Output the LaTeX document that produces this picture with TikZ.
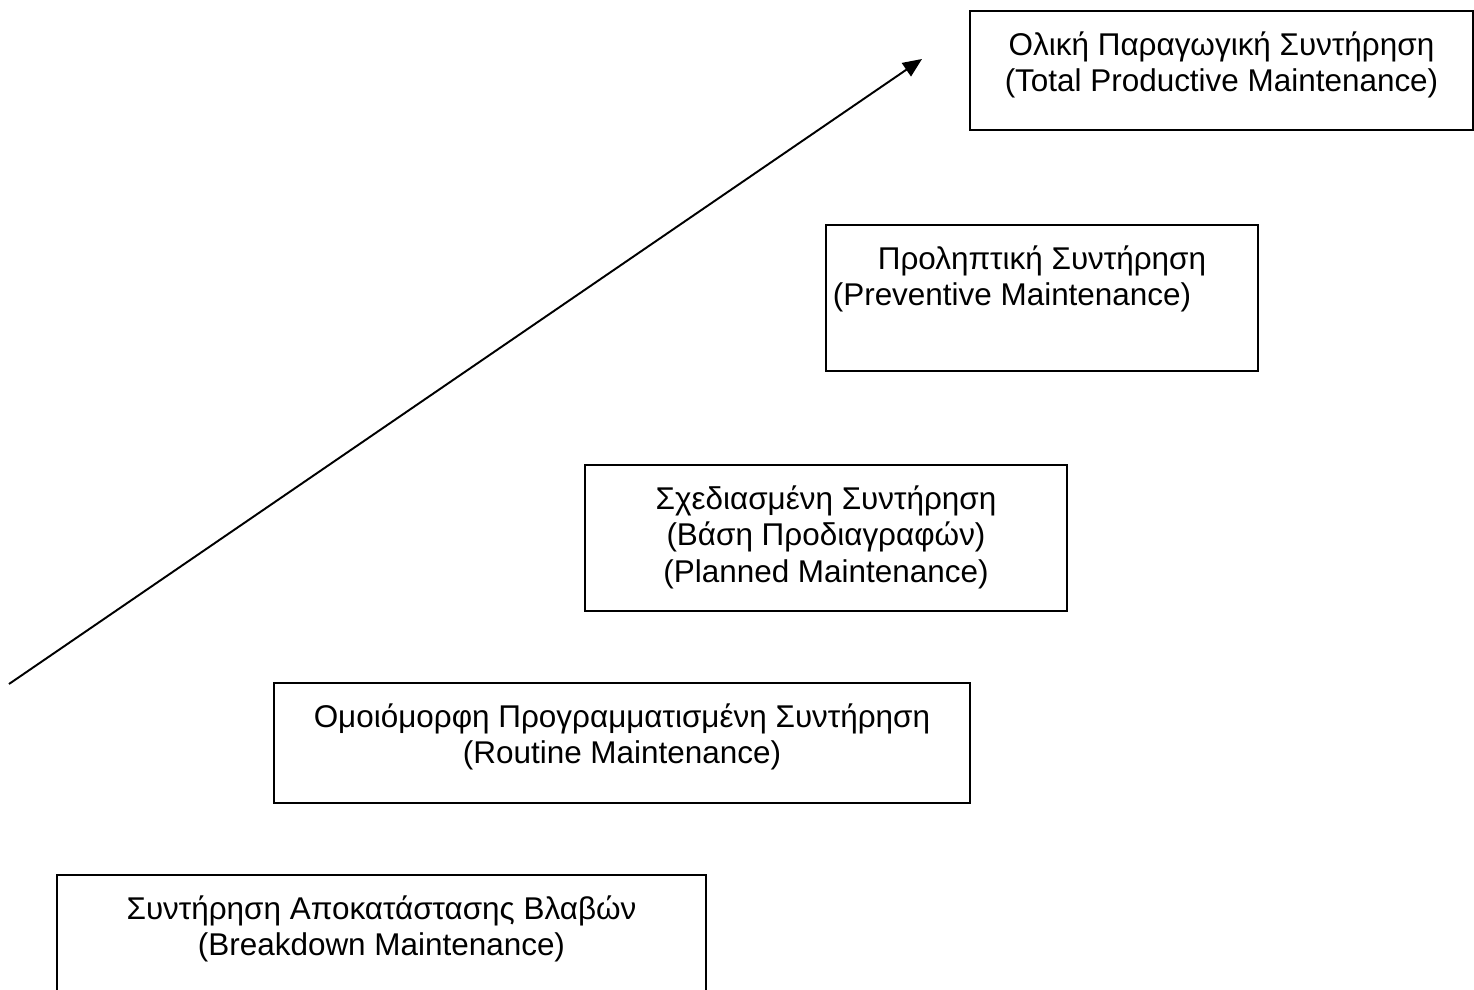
\documentclass[tikz,border=0pt]{standalone}
\usepackage{fontspec}
\setmainfont{Liberation Sans}
\usetikzlibrary{positioning,arrows.meta}

\tikzset{
  stage/.style={draw, line width=1pt, inner sep=0pt},
  stagetext/.style={align=center, inner sep=0pt, font=\fontsize{17.9}{20.9}\selectfont},
}

\begin{document}
\begin{tikzpicture}[x=0.02cm,y=-0.02cm]
    \useasboundingbox (0,0) rectangle (1474,990);

    % the five stages, bottom to top
    \node[stage, minimum width=12.98cm, minimum height=2.5cm] (brk) at (381.5,937.5) {};
    \node[stage, minimum width=13.92cm, minimum height=2.4cm] (routine) at (622,743) {};
    \node[stage, minimum width=9.64cm, minimum height=2.92cm] (plan) at (826,538) {};
    \node[stage, minimum width=8.64cm, minimum height=2.92cm] (prev) at (1042,298) {};
    \node[stage, minimum width=10.06cm, minimum height=2.38cm] (tpm) at (1221.5,70.5) {};

    \node[stagetext, below=0.42cm of brk.north] (brktxt)
        {Συντήρηση Αποκατάστασης Βλαβών\\(Breakdown Maintenance)};
    \node[stagetext, below=0.42cm of routine.north] (routinetxt)
        {Ομοιόμορφη Προγραμματισμένη Συντήρηση\\(Routine Maintenance)};
    \node[stagetext, below=0.42cm of plan.north] (plantxt)
        {Σχεδιασμένη Συντήρηση\\(Βάση Προδιαγραφών)\\(Planned Maintenance)};
    \node[stagetext, below=0.42cm of prev.north] (prevtxt)
        {Προληπτική Συντήρηση\\(Preventive Maintenance)\hspace*{1.2cm}};
    \node[stagetext, below=0.42cm of tpm.north] (tpmtxt)
        {Ολική Παραγωγική Συντήρηση\\(Total Productive Maintenance)};

%    growth arrow
    \coordinate (low) at (9,684);
    \coordinate (high) at (922,59);
    \draw[line width=1.1pt, -{Triangle[length=0.38cm, width=0.32cm]}] (low) -- (high);

\end{tikzpicture}
\end{document}
